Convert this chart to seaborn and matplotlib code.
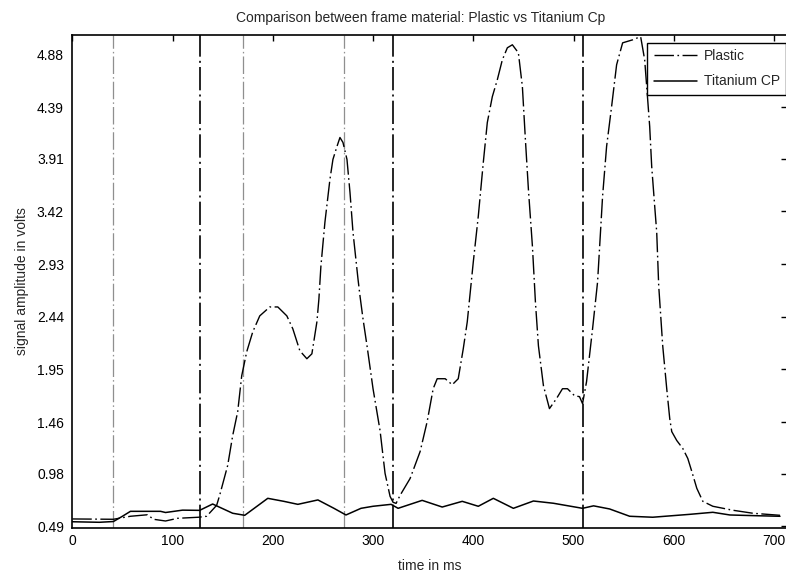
import matplotlib
matplotlib.use("Agg")
import matplotlib.pyplot as plt
import numpy as np
import pandas as pd
import seaborn as sns

# ---- data -------------------------------------------------------------
plastic_time = [0, 41, 58, 75, 81, 93, 105, 126, 134, 144, 147, 155, 160, 165,
                169, 174, 180, 187, 197, 205, 214, 220, 227, 234, 239, 244, 246,
                248, 252, 257, 260, 264, 267, 270, 274, 277, 280, 285, 287, 290,
                294, 300, 307, 312, 317, 320, 323, 327, 337, 347, 354, 360, 364,
                372, 379, 385, 390, 394, 400, 405, 410, 414, 419, 424, 429, 434,
                439, 445, 449, 452, 455, 459, 462, 465, 470, 476, 483, 489, 494,
                501, 506, 509, 513, 519, 524, 529, 533, 538, 543, 549, 559, 564,
                567, 571, 574, 576, 578, 581, 583, 585, 589, 593, 596, 598, 603,
                609, 614, 618, 623, 629, 639, 659, 679, 706]
plastic_volts = [0.558, 0.555, 0.583, 0.597, 0.555, 0.539, 0.564, 0.574, 0.583,
                 0.685, 0.778, 1.056, 1.334, 1.557, 1.891, 2.114, 2.299, 2.448,
                 2.531, 2.531, 2.448, 2.327, 2.123, 2.049, 2.095, 2.392, 2.605,
                 2.911, 3.319, 3.718, 3.904, 4.024, 4.108, 4.062, 3.904, 3.598,
                 3.227, 2.791, 2.633, 2.420, 2.169, 1.770, 1.381, 0.982, 0.768,
                 0.713, 0.703, 0.778, 0.935, 1.186, 1.464, 1.770, 1.863, 1.863,
                 1.807, 1.863, 2.141, 2.392, 2.948, 3.375, 3.876, 4.247, 4.488,
                 4.646, 4.831, 4.943, 4.971, 4.896, 4.581, 4.089, 3.626, 3.097,
                 2.577, 2.169, 1.798, 1.585, 1.678, 1.770, 1.770, 1.705, 1.696,
                 1.631, 1.835, 2.327, 2.763, 3.561, 4.024, 4.396, 4.785, 4.989,
                 5.017, 5.036, 5.045, 4.831, 4.460, 4.210, 3.839, 3.468, 3.227,
                 2.726, 2.169, 1.770, 1.492, 1.371, 1.288, 1.214, 1.121, 1.000,
                 0.843, 0.722, 0.676, 0.639, 0.611, 0.592]

titanium_time = [0, 27, 41, 50, 58, 88, 93, 110, 127, 140, 160, 172, 195, 211,
                 225, 245, 261, 273, 288, 300, 318, 325, 349, 369, 389, 405, 420,
                 440, 460, 480, 509, 520, 536, 556, 579, 616, 639, 656, 683, 706]
titanium_volts = [0.532, 0.527, 0.534, 0.583, 0.629, 0.629, 0.618, 0.640, 0.638,
                  0.697, 0.611, 0.592, 0.750, 0.722, 0.694, 0.735, 0.657, 0.595,
                  0.657, 0.676, 0.694, 0.657, 0.731, 0.669, 0.722, 0.676, 0.750,
                  0.657, 0.725, 0.704, 0.657, 0.680, 0.651, 0.583, 0.574, 0.601,
                  0.620, 0.595, 0.588, 0.583]

marker_times_black = [127.5, 320, 509]
marker_times_grey = [41, 170, 271.5]

x_ticks = [0, 100, 200, 300, 400, 500, 600, 700]
y_ticks = [0.49, 0.98, 1.46, 1.95, 2.44, 2.93, 3.42, 3.91, 4.39, 4.88]

# ---- figure -----------------------------------------------------------
sns.set_style("white")
plt.rcParams["font.family"] = ["Liberation Sans", "DejaVu Sans"]
plt.rcParams["font.size"] = 10

fig = plt.figure(figsize=(7.86, 5.74), dpi=100)
ax = fig.add_axes([0.0920, 0.0798, 0.9093, 0.8598])

dashdot = (0, (14, 2.5, 1.2, 2.5))

plastic = pd.DataFrame({"time": plastic_time, "volts": plastic_volts})
titanium = pd.DataFrame({"time": titanium_time, "volts": titanium_volts})

for t in marker_times_grey:
    ax.axvline(t, color="#8f8f8f", lw=0.9, linestyle=dashdot, zorder=1)
for t in marker_times_black:
    ax.axvline(t, color="black", lw=1.2, linestyle=dashdot, zorder=1)

sns.lineplot(data=plastic, x="time", y="volts", ax=ax, color="black",
             lw=1.0, linestyle=dashdot, estimator=None, sort=False,
             label="Plastic")
sns.lineplot(data=titanium, x="time", y="volts", ax=ax, color="black",
             lw=1.1, estimator=None, sort=False, label="Titanium CP")

ax.set_xlim(0, 713)
ax.set_ylim(0.472, 5.065)
ax.set_xticks(x_ticks)
ax.set_yticks(y_ticks)
ax.set_yticklabels([f"{v:.2f}" for v in y_ticks])

ax.tick_params(direction="in", length=4.5, width=1, colors="black",
               top=True, right=True, labelsize=10)
ax.tick_params(axis="x", pad=4)
ax.tick_params(axis="y", pad=6)
for s in ax.spines.values():
    s.set_visible(True)
    s.set_color("black")
    s.set_linewidth(1.2)

ax.set_title("Comparison between frame material: Plastic vs Titanium Cp",
             fontsize=10, pad=9, x=0.487)
ax.set_xlabel("time in ms", fontsize=10, labelpad=8)
ax.set_ylabel("signal amplitude in volts", fontsize=10, labelpad=6)

leg = ax.legend(loc="upper right", bbox_to_anchor=(0.9986, 0.983),
                borderaxespad=0, fancybox=False, frameon=True,
                edgecolor="black", framealpha=1, fontsize=10,
                handlelength=3.1, handletextpad=0.5, borderpad=0.45,
                labelspacing=0.8)
leg.get_frame().set_linewidth(1.0)

fig.savefig("out.png", dpi=100, facecolor="white")
